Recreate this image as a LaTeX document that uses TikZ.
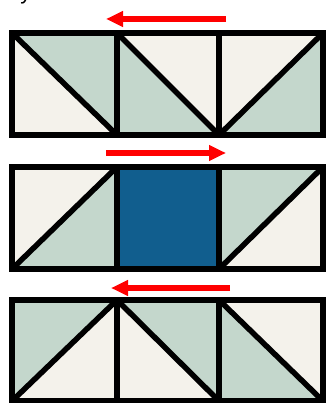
\documentclass[tikz,border=0pt]{standalone}
\usepackage{fontspec}
\setmainfont{Liberation Sans}
\usetikzlibrary{arrows.meta}
\definecolor{sage}{HTML}{C4D7CC}
\definecolor{cream}{HTML}{F4F2EB}
\definecolor{deepBlue}{HTML}{115E8E}
\begin{document}
\begin{tikzpicture}[
        x=1pt,
        y=-1pt,
        grid/.style={
            line width=5.5pt
        },
        sageFill/.style={
            fill=sage
        },
        creamFill/.style={
            fill=cream
        },
        blueFill/.style={
            fill=deepBlue
        },
        flow/.style={
            red,
            line width=5.5pt,
            -{Triangle[length=17pt,width=15pt]}
        },
        titleText/.style={
            font=\fontsize{22}{26}\selectfont,
            anchor=base west,
            inner sep=0pt
        }
    ]

        \useasboundingbox (0,0) rectangle (327,403);
        \clip (0,0) rectangle (327,403);
        \fill[white] (0,0) rectangle (327,403);

        \node[titleText] (title) at (8,-0.5) {by rows and columns};

        % row 1
        \fill[creamFill] (12,33) rectangle (323,135);
        \fill[sageFill] (12,33) -- (117,33) -- (117,135) -- cycle;
        \fill[sageFill] (117,33) -- (117,135) -- (219,135) -- cycle;
        \fill[sageFill] (219,135) -- (323,135) -- (323,33) -- cycle;
        \draw[grid] (12,33) -- (117,135);
        \draw[grid] (117,33) -- (219,135);
        \draw[grid] (219,135) -- (323,33);

        % row 2
        \fill[creamFill] (12,167) rectangle (323,269);
        \fill[sageFill] (12,269) -- (117,269) -- (117,167) -- cycle;
        \fill[blueFill] (117,167) rectangle (219,269);
        \fill[sageFill] (219,167) -- (323,167) -- (219,269) -- cycle;
        \draw[grid] (12,269) -- (117,167);
        \draw[grid] (219,269) -- (323,167);

        % row 3
        \fill[creamFill] (12,300) rectangle (323,401);
        \fill[sageFill] (12,300) -- (117,300) -- (12,401) -- cycle;
        \fill[sageFill] (117,300) -- (219,300) -- (219,401) -- cycle;
        \fill[sageFill] (219,300) -- (219,401) -- (323,401) -- cycle;
        \draw[grid] (12,401) -- (117,300);
        \draw[grid] (117,300) -- (219,401);
        \draw[grid] (219,300) -- (323,401);

        \foreach \top/\bot in {33/135,167/269,300/401} {
            \draw[grid] (12,\top) rectangle (323,\bot);
            \foreach \x in {117,219} {
                \draw[grid] (\x,\top) -- (\x,\bot);
            }
        }

        \coordinate (a1) at (226,19);
        \coordinate (b1) at (106,19);
        \coordinate (a2) at (106,153);
        \coordinate (b2) at (226,153);
        \coordinate (a3) at (230,288);
        \coordinate (b3) at (111,288);

        \draw[flow] (a1) -- (b1);
        \draw[flow] (a2) -- (b2);
        \draw[flow] (a3) -- (b3);

    \end{tikzpicture}
\end{document}
